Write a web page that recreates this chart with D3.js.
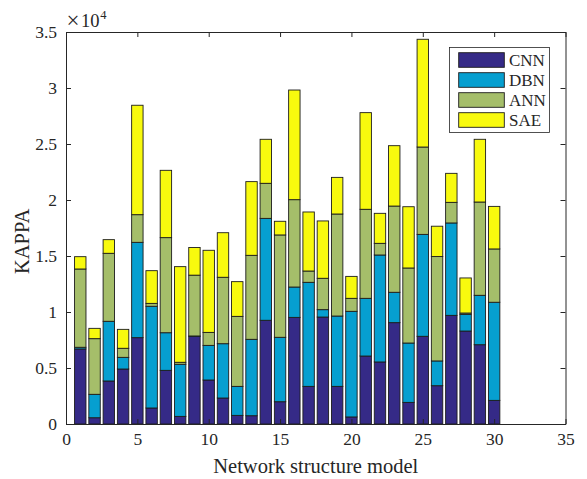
<!DOCTYPE html>
<html>
<head>
<meta charset="utf-8">
<script src="https://cdn.jsdelivr.net/npm/d3@7"></script>
<style>
  html, body { margin: 0; padding: 0; background: #fff; }
  svg { display: block; }
</style>
</head>
<body>
<svg id="chart" width="587" height="479"></svg>
<script>
// Network structure model index (1..30)
const models = d3.range(1, 31);
const seriesNames = ["CNN", "DBN", "ANN", "SAE"];
const seriesColors = ["#352a87", "#069fd0", "#a5be6a", "#f8fa0e"];

// KAPPA contribution of each network per model
const cnn = [6700, 560, 3840, 4910, 7710, 1430, 4790, 680, 7830, 3930,
             2320, 770, 740, 9260, 1990, 9520, 3360, 9550, 3360, 630,
             6070, 5540, 9050, 1930, 7830, 3420, 9700, 8300, 7080, 2110];
const dbn = [150, 2090, 5330, 1040, 8510, 9080, 3360, 4650, 30, 3090,
             4850, 2590, 6820, 9100, 5750, 2710, 9290, 660, 6280, 9430,
             5150, 9550, 2710, 5300, 9100, 2210, 8250, 1490, 4410, 8760];
const ann = [6990, 4970, 6070, 810, 2470, 260, 8490, 180, 5430, 1160,
             5930, 6250, 7500, 3130, 9140, 7800, 1010, 2800, 9110, 1160,
             7950, 1040, 7700, 6700, 7800, 9320, 1840, 120, 8330, 4760];
const sae = [1100, 920, 1220, 1690, 9770, 2920, 6010, 8540, 2470, 7330,
             3980, 3100, 6580, 3930, 1220, 9790, 5270, 5120, 3270, 1960,
             8630, 2680, 5390, 5470, 9620, 2710, 2590, 3130, 5600, 3800];

const xTicks = [0, 5, 10, 15, 20, 25, 30, 35];
const yTicks = [0, 5000, 10000, 15000, 20000, 25000, 30000, 35000];

const FONT = '"Liberation Serif", "Times New Roman", Times, serif';
const INK = "#262626";

const rows = models.map((m, i) => ({
  model: m, CNN: cnn[i], DBN: dbn[i], ANN: ann[i], SAE: sae[i]
}));

const svg = d3.select("#chart");
const margin = { left: 66, right: 587 - 565.5, top: 32, bottom: 479 - 424 };
const W = 587 - margin.left - margin.right;
const H = 479 - margin.top - margin.bottom;

const x = d3.scaleLinear().domain([0, 35]).range([margin.left, margin.left + W]);
const y = d3.scaleLinear().domain([0, 35000]).range([margin.top + H, margin.top]);
const barW = x(0.8) - x(0);

const stacked = d3.stack().keys(seriesNames)(rows);

// Stacked bars
const g = svg.append("g");
stacked.forEach((layer, li) => {
  g.append("g")
    .selectAll("rect")
    .data(layer)
    .join("rect")
    .attr("x", d => x(d.data.model) - barW / 2)
    .attr("y", d => y(d[1]))
    .attr("width", barW)
    .attr("height", d => Math.max(0, y(d[0]) - y(d[1])))
    .attr("fill", seriesColors[li])
    .attr("stroke", "#1c1c1c")
    .attr("stroke-width", 0.9);
});

// Axes box with inward ticks on all four sides
const tickLen = 5;
const bottomAxis = d3.axisBottom(x).tickValues(xTicks).tickSizeInner(-tickLen).tickSizeOuter(0).tickPadding(9);
const topAxis = d3.axisTop(x).tickValues(xTicks).tickSizeInner(-tickLen).tickSizeOuter(0).tickFormat("");
const leftAxis = d3.axisLeft(y).tickValues(yTicks).tickSizeInner(-tickLen).tickSizeOuter(0).tickPadding(9)
  .tickFormat(d => d3.format("")(d / 10000));
const rightAxis = d3.axisRight(y).tickValues(yTicks).tickSizeInner(-tickLen).tickSizeOuter(0).tickFormat("");

function styleAxis(sel) {
  sel.attr("font-family", FONT).attr("font-size", 17.5);
  sel.select(".domain").attr("stroke", INK).attr("stroke-width", 1);
  sel.selectAll(".tick line").attr("stroke", INK).attr("stroke-width", 1);
  sel.selectAll(".tick text").attr("fill", INK).style("font-family", FONT).style("font-size", "17.5px");
}

svg.append("g").attr("transform", `translate(0,${margin.top + H})`).call(bottomAxis).call(styleAxis);
svg.append("g").attr("transform", `translate(0,${margin.top})`).call(topAxis).call(styleAxis);
svg.append("g").attr("transform", `translate(${margin.left},0)`).call(leftAxis).call(styleAxis);
svg.append("g").attr("transform", `translate(${margin.left + W},0)`).call(rightAxis).call(styleAxis);

// Exponent marker: ×10 with superscript 4
svg.append("text")
  .attr("x", 66.5).attr("y", 27.5)
  .style("font-family", FONT).style("font-size", "23px").attr("fill", INK)
  .text("\u00d7");
svg.append("text")
  .attr("x", 81).attr("y", 26.7)
  .style("font-family", FONT).style("font-size", "18.5px").attr("fill", INK)
  .text("10");
svg.append("text")
  .attr("x", 100.3).attr("y", 18.6)
  .style("font-family", FONT).style("font-size", "12.5px").attr("fill", INK)
  .text("4");

// Axis titles
svg.append("text")
  .attr("x", x(17.5)).attr("y", 473)
  .attr("text-anchor", "middle")
  .style("font-family", FONT).style("font-size", "20.5px").attr("fill", INK)
  .text("Network structure model");

svg.append("text")
  .attr("transform", `translate(29,${y(16300)}) rotate(-90)`)
  .attr("text-anchor", "middle")
  .style("font-family", FONT).style("font-size", "20.5px").attr("fill", INK)
  .text("KAPPA");

// Legend
const lg = svg.append("g");
lg.append("rect")
  .attr("x", 449.5).attr("y", 47.5).attr("width", 100).attr("height", 85)
  .attr("fill", "#fff").attr("stroke", INK).attr("stroke-width", 0.8);
seriesNames.forEach((name, i) => {
  const yy = 52.7 + i * 20;
  lg.append("rect")
    .attr("x", 458.7).attr("y", yy).attr("width", 45.6).attr("height", 14.6)
    .attr("fill", seriesColors[i]).attr("stroke", "#1c1c1c").attr("stroke-width", 0.9);
  lg.append("text")
    .attr("x", 509).attr("y", yy + 13)
    .style("font-family", FONT).style("font-size", "17px").attr("fill", INK)
    .text(name);
});
</script>
</body>
</html>
